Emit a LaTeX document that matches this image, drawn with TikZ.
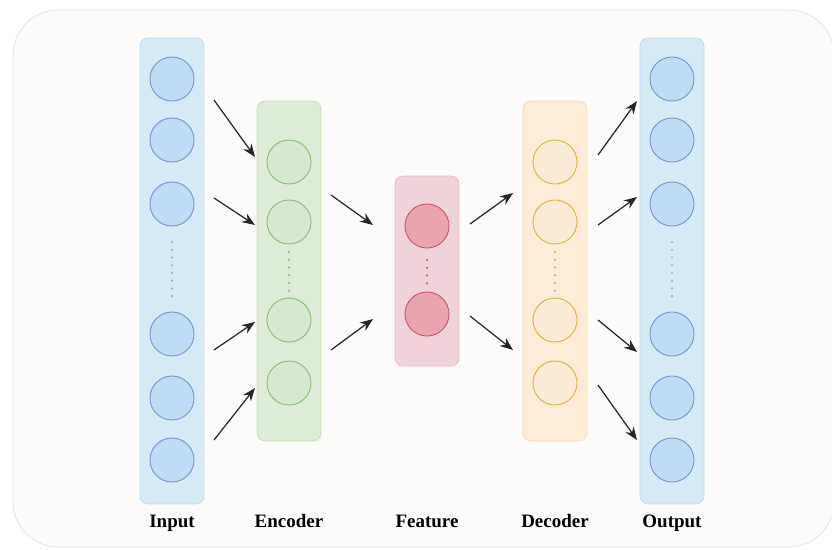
\documentclass[tikz,border=0pt]{standalone}
\usepackage{fontspec}
\setmainfont{Liberation Serif}
\usetikzlibrary{arrows.meta}
\definecolor{bgfill}{RGB}{253,251,249}
\definecolor{bgline}{RGB}{226,224,222}
\definecolor{inblue}{RGB}{214,234,246}
\definecolor{inblueline}{RGB}{190,218,238}
\definecolor{unitblue}{RGB}{192,219,243}
\definecolor{unitblueline}{RGB}{112,152,204}
\definecolor{encgreen}{RGB}{221,236,214}
\definecolor{encgreenline}{RGB}{196,224,184}
\definecolor{unitgreen}{RGB}{214,232,210}
\definecolor{unitgreenline}{RGB}{136,190,112}
\definecolor{featred}{RGB}{240,210,218}
\definecolor{featredline}{RGB}{228,188,198}
\definecolor{unitred}{RGB}{234,164,176}
\definecolor{unitredline}{RGB}{200,84,104}
\definecolor{decorange}{RGB}{252,235,214}
\definecolor{decorangeline}{RGB}{246,220,186}
\definecolor{unitorange}{RGB}{251,234,214}
\definecolor{unitorangeline}{RGB}{226,176,48}
\definecolor{arrowgray}{RGB}{38,38,38}

\begin{document}
\begin{tikzpicture}[x=0.02cm, y=-0.02cm,
    layer/.style={draw, rounded corners=4.5pt, minimum width=1.28cm, inner sep=0pt},
    unit/.style={circle, draw, minimum size=0.88cm, inner sep=0pt, line width=0.5pt},
    link/.style={-{Stealth[length=2.6mm, width=2mm]}, line width=0.7pt, draw=arrowgray},
    gap/.style={line width=1.3pt, line cap=round, dash pattern=on 0pt off 4.4pt},
    caption/.style={font=\bfseries\fontsize{10.8}{13}\selectfont, anchor=base, inner sep=0pt}
  ]
  \useasboundingbox (0,0) rectangle (832,549);
  \draw[fill=bgfill, draw=bgline, rounded corners=0.9cm] (13,10) rectangle (834,547);

  % layers
  \node[layer, fill=inblue, draw=inblueline, minimum height=9.32cm] (input) at (172,271) {};
  \node[layer, fill=encgreen, draw=encgreenline, minimum height=6.8cm] (encoder) at (289,271) {};
  \node[layer, fill=featred, draw=featredline, minimum height=3.8cm] (feature) at (427,271) {};
  \node[layer, fill=decorange, draw=decorangeline, minimum height=6.8cm] (decoder) at (555,271) {};
  \node[layer, fill=inblue, draw=inblueline, minimum height=9.32cm] (output) at (672,271) {};

  % units
  \foreach \y [count=\i] in {79,140,204,334,398,460} {
    \node[unit, fill=unitblue, draw=unitblueline] (in\i) at (172,\y) {};
    \node[unit, fill=unitblue, draw=unitblueline] (out\i) at (672,\y) {};
  }
  \foreach \y [count=\i] in {162,222,320,383} {
    \node[unit, fill=unitgreen, draw=unitgreenline] (enc\i) at (289,\y) {};
    \node[unit, fill=unitorange, draw=unitorangeline] (dec\i) at (555,\y) {};
  }
  \node[unit, fill=unitred, draw=unitredline] (feat1) at (427,226) {};
  \node[unit, fill=unitred, draw=unitredline] (feat2) at (427,314) {};

  \draw[gap, draw=unitblueline!80] (172,242) -- (172,300);
  \draw[gap, draw=unitblueline!80] (672,242) -- (672,300);
  \draw[gap, draw=unitgreenline] (289,252) -- (289,292);
  \draw[gap, draw=unitgreenline] (555,252) -- (555,292);
  \draw[gap, draw=unitredline] (427,260) -- (427,288);

  % arrows
  \foreach \a/\b/\c/\d [count=\i] in {214/100/255/157, 214/198/255/225, 214/350/255/322, 214/440/255/388,
      331/195/373/225, 331/350/373/319, 470/224/513/193, 470/316/513/350,
      598/155/637/101, 598/225/637/197, 598/320/637/352, 598/385/637/440} {
    \coordinate (s\i) at (\a,\b);
    \coordinate (t\i) at (\c,\d);
    \draw[link] (s\i) -- (t\i);
  }

  % captions
  \node[caption] (incap) at (172,527) {Input};
  \node[caption] (enccap) at (289,527) {Encoder};
  \node[caption] (featcap) at (427,527) {Feature};
  \node[caption] (deccap) at (555,527) {Decoder};
  \node[caption] (outcap) at (672,527) {Output};
\end{tikzpicture}
\end{document}
